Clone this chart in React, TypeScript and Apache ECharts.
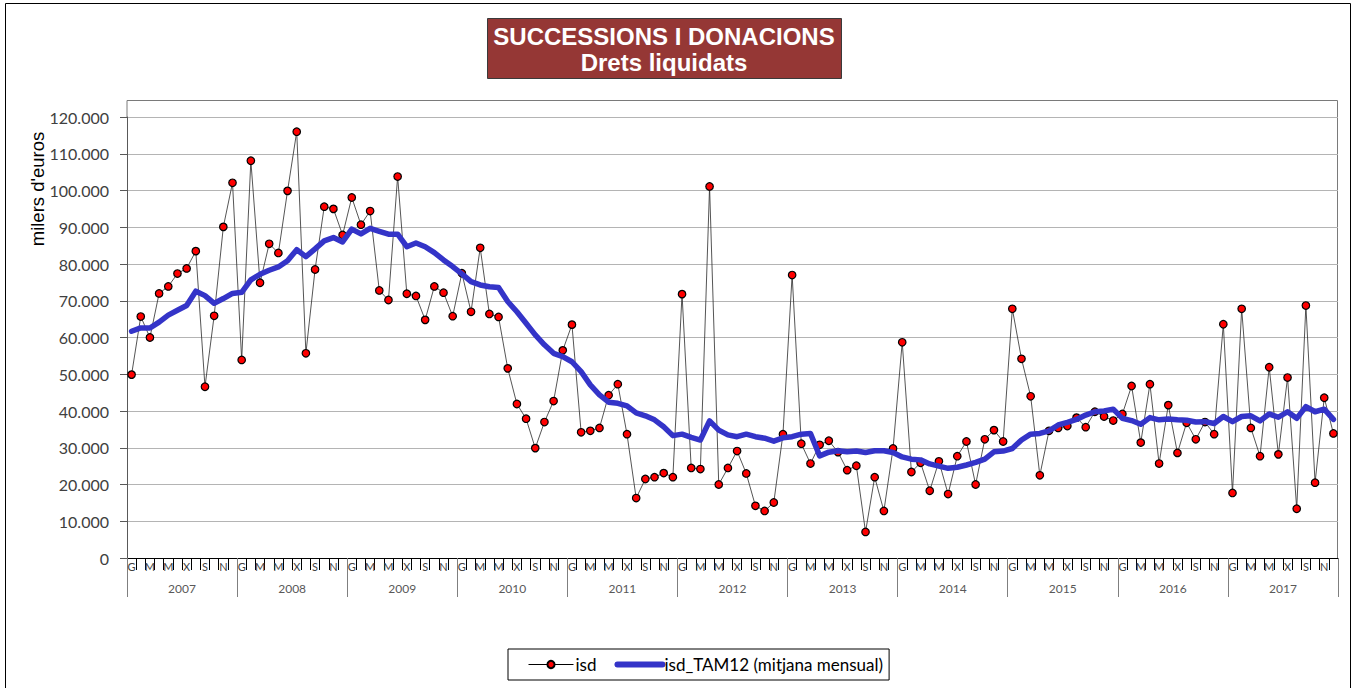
import React, { useEffect, useRef } from "react";
import * as echarts from "echarts";

const months = ["G", "F", "M", "A", "M", "J", "X", "A", "S", "O", "N", "D"];
const years = ["2007", "2008", "2009", "2010", "2011", "2012", "2013", "2014", "2015", "2016", "2017"];
const yTickValues = [0, 10000, 20000, 30000, 40000, 50000, 60000, 70000, 80000, 90000, 100000, 110000, 120000];

// isd (milers d'euros), monthly
const isd2007 = [49900, 65700, 60000, 72000, 73900, 77400, 78800, 83500, 46600, 65900, 90100, 102100];
const isd2008 = [53900, 108100, 74900, 85500, 83000, 99900, 116000, 55700, 78500, 95600, 95000, 87900];
const isd2009 = [98100, 90700, 94400, 72800, 70200, 103800, 71900, 71300, 64800, 73900, 72200, 65800];
const isd2010 = [77500, 67000, 84400, 66400, 65600, 51600, 41900, 37900, 29900, 37000, 42700, 56500];
const isd2011 = [63500, 34200, 34600, 35400, 44300, 47300, 33700, 16300, 21500, 22000, 23100, 22000];
const isd2012 = [71800, 24500, 24200, 101100, 20000, 24500, 29100, 23000, 14200, 12800, 15100, 33700];
const isd2013 = [77000, 31100, 25700, 30800, 31900, 28800, 23900, 25100, 7100, 22000, 12800, 29800];
const isd2014 = [58700, 23400, 25900, 18300, 26300, 17400, 27700, 31700, 20000, 32300, 34800, 31700];
const isd2015 = [67800, 54200, 44000, 22500, 34600, 35400, 35900, 38200, 35600, 39800, 38500, 37400];
const isd2016 = [39200, 46800, 31400, 47300, 25700, 41600, 28600, 36800, 32300, 37000, 33700, 63600];
const isd2017 = [17700, 67800, 35400, 27700, 51900, 28200, 49100, 13400, 68700, 20500, 43600, 33900];

// isd_TAM12 (mitjana mensual)
const tam2007 = [61700, 62600, 62600, 64200, 66100, 67400, 68700, 72600, 71400, 69300, 70600, 72000];
const tam2008 = [72300, 75700, 77200, 78300, 79200, 80900, 83900, 82000, 84100, 86300, 87200, 86000];
const tam2009 = [89500, 88200, 89700, 88900, 88100, 88100, 84700, 85700, 84700, 83100, 81100, 79300];
const tam2010 = [77300, 75200, 74300, 73800, 73600, 69800, 67000, 63900, 60700, 58000, 55700, 54800];
const tam2011 = [53400, 50700, 47100, 44400, 42400, 42100, 41400, 39500, 38700, 37600, 35700, 33300];
const tam2012 = [33700, 32800, 32100, 37300, 34800, 33500, 33000, 33700, 33000, 32600, 31800, 32700];
const tam2013 = [33000, 33700, 33900, 27800, 28800, 29200, 28900, 29100, 28700, 29200, 29200, 28700];
const tam2014 = [27500, 26900, 26700, 25600, 25000, 24400, 24700, 25300, 26000, 26900, 28900, 29100];
const tam2015 = [29800, 32100, 33700, 33900, 34600, 36200, 36900, 37700, 38900, 39800, 40000, 40500];
const tam2016 = [38000, 37400, 36400, 38200, 37600, 37800, 37600, 37500, 37000, 37100, 36600, 38500];
const tam2017 = [37100, 38500, 38700, 37300, 39200, 38300, 39800, 38000, 41200, 39800, 40500, 37700];

const isd = [
  ...isd2007, ...isd2008, ...isd2009, ...isd2010, ...isd2011, ...isd2012,
  ...isd2013, ...isd2014, ...isd2015, ...isd2016, ...isd2017,
];
const tam = [
  ...tam2007, ...tam2008, ...tam2009, ...tam2010, ...tam2011, ...tam2012,
  ...tam2013, ...tam2014, ...tam2015, ...tam2016, ...tam2017,
];

const categories: string[] = [];
years.forEach((y) => months.forEach((_m, i) => categories.push(y + "-" + i)));

function fmtY(v: number): string {
  if (v === 0) return "0";
  return String(Math.round(v / 1000)) + ".000";
}

export default function App() {
  const ref = useRef<HTMLDivElement>(null);

  useEffect(() => {
    if (!ref.current) return;
    const chart = echarts.init(ref.current, null, { renderer: "svg" });
    const blue = "#3434c8";
    chart.setOption({
      animation: false,
      backgroundColor: "#ffffff",
      grid: { left: 127, right: 19, top: 117, bottom: 130, containLabel: false },
      legend: {
        left: 508,
        top: 649,
        orient: "horizontal",
        padding: [7, 6, 7, 20],
        itemGap: 18,
        itemWidth: 45,
        itemHeight: 9,
        borderColor: "#000000",
        borderWidth: 1,
        backgroundColor: "#ffffff",
        textStyle: { fontFamily: "Lato", fontSize: 17, color: "#000000", padding: [0, 0, 0, -3] },
        data: [
          { name: "isd", lineStyle: { width: 1, color: "#000000" } },
          {
            name: "isd_TAM12 (mitjana mensual)",
            itemStyle: { opacity: 0, borderWidth: 0 },
            lineStyle: { width: 6, color: blue, cap: "round" },
          },
        ],
      },
      xAxis: [
        {
          type: "category",
          data: categories,
          boundaryGap: true,
          position: "bottom",
          axisLine: { show: true, lineStyle: { color: "#000000", width: 1 } },
          axisTick: { show: true, interval: 0, length: 12, lineStyle: { color: "#000000", width: 1 } },
          axisLabel: {
            interval: (index: number) => index % 2 === 0,
            formatter: (value: string) => months[parseInt(value.split("-")[1], 10)],
            margin: 3,
            fontFamily: "Lato",
            fontSize: 11,
            color: "#404040",
          },
          splitLine: { show: false },
        },
        {
          type: "category",
          data: years,
          boundaryGap: true,
          position: "bottom",
          axisLine: { show: false },
          axisTick: { show: true, interval: 0, length: 39, lineStyle: { color: "#7f7f7f", width: 1 } },
          axisLabel: {
            interval: 0,
            margin: 24,
            fontFamily: "Lato",
            fontSize: 12,
            color: "#595959",
          },
          splitLine: { show: false },
        },
      ],
      yAxis: {
        type: "value",
        min: 0,
        max: 120000,
        interval: 10000,
        axisLine: { show: true, lineStyle: { color: "#595959", width: 1 } },
        axisTick: { show: true, length: 7, lineStyle: { color: "#595959" } },
        axisLabel: {
          formatter: (v: number) => (yTickValues.indexOf(v) >= 0 ? fmtY(v) : ""),
          margin: 18,
          fontFamily: "Lato",
          fontSize: 16,
          color: "#404040",
        },
        splitLine: { show: true, lineStyle: { color: "#b4b4b4", width: 1 } },
      },
      series: [
        {
          name: "isd",
          type: "line",
          xAxisIndex: 0,
          data: isd,
          symbol: "circle",
          symbolSize: 7.5,
          showSymbol: true,
          showAllSymbol: true,
          itemStyle: { color: "#ff0000", borderColor: "#000000", borderWidth: 1.2 },
          lineStyle: { color: "#2a2a2a", width: 0.8 },
          z: 2,
        },
        {
          name: "isd_TAM12 (mitjana mensual)",
          type: "line",
          xAxisIndex: 0,
          data: tam,
          symbol: "none",
          itemStyle: { color: blue },
          lineStyle: { color: blue, width: 5.5, cap: "round", join: "round" },
          z: 3,
        },
      ],
      graphic: [
        {
          type: "rect",
          silent: true,
          z: -10,
          shape: { x: 5.5, y: 3.5, width: 1345, height: 700 },
          style: { fill: "none", stroke: "#000000", lineWidth: 1 },
        },
        {
          type: "polyline",
          silent: true,
          shape: { points: [[127, 117], [127, 100.5], [1337.5, 100.5], [1337.5, 558]] },
          style: { fill: "none", stroke: "#7a7a7a", lineWidth: 1 },
        },
        {
          type: "rect",
          silent: true,
          shape: { x: 487.5, y: 18.5, width: 354, height: 60 },
          style: { fill: "#953735", stroke: "#3a3a3a", lineWidth: 1 },
        },
        {
          type: "text",
          silent: true,
          x: 664,
          y: 36,
          style: {
            text: "SUCCESSIONS I DONACIONS",
            fill: "#ffffff",
            font: "bold 24px 'Liberation Sans', Arial, sans-serif",
            textAlign: "center",
            textVerticalAlign: "middle",
          },
        },
        {
          type: "text",
          silent: true,
          x: 664,
          y: 62,
          style: {
            text: "Drets liquidats",
            fill: "#ffffff",
            font: "bold 24px 'Liberation Sans', Arial, sans-serif",
            textAlign: "center",
            textVerticalAlign: "middle",
          },
        },
        {
          type: "text",
          silent: true,
          x: 37,
          y: 189,
          rotation: Math.PI / 2,
          style: {
            text: "milers d'euros",
            fill: "#000000",
            font: "18.5px 'Liberation Sans', Arial, sans-serif",
            textAlign: "center",
            textVerticalAlign: "middle",
          },
        },
      ],
    });
    return () => {
      chart.dispose();
    };
  }, []);

  return (
    <div
      ref={ref}
      style={{ position: "absolute", left: 0, top: 0, width: 1357, height: 688 }}
    />
  );
}
